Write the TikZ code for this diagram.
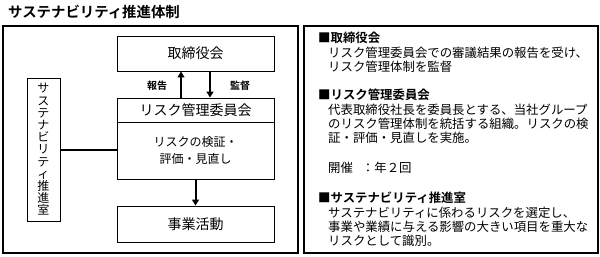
\documentclass[tikz,border=0pt]{standalone}
\usepackage{fontspec}
\newfontfamily\jp{Noto Sans CJK JP}[BoldFont={Noto Sans CJK JP Bold}]
\usetikzlibrary{arrows.meta}
\tikzset{
  frame/.style={draw=black, line width=1.1pt},
  boxn/.style={draw=black, line width=0.9pt, minimum width=157pt, inner sep=0pt, font=\jp\fontsize{14}{16}\selectfont},
  arr/.style={line width=2pt, -{Triangle[length=6pt,width=7pt]}},
  lbl/.style={font=\jp\bfseries\fontsize{10}{12}\selectfont, inner sep=0pt},
  para/.style={anchor=north west, inner sep=0pt, align=left, font=\jp\fontsize{12.4}{14}\selectfont},
}
\newcommand{\ind}{\hspace{10pt}}
\begin{document}
\begin{tikzpicture}[x=1pt,y=-1pt]
\useasboundingbox (0,0) rectangle (600,257);
\node[inner sep=0pt, anchor=west, font=\jp\bfseries\fontsize{14.4}{16}\selectfont] (title) at (8,12) {サステナビリティ推進体制};
\draw[frame] (3,26) rectangle (298,253);
\draw[frame] (304,26) rectangle (598,253);
\node[boxn, minimum height=35pt] (board) at (195.5,53.5) {取締役会};
\node[boxn, minimum height=24pt] (risktitle) at (195.5,110) {リスク管理委員会};
\node[boxn, minimum height=57pt, align=center, font=\jp\fontsize{12}{17}\selectfont] (riskbody) at (195.5,150.5) {リスクの検証・\\評価・見直し};
\node[boxn, minimum height=36pt] (biz) at (195.5,224) {事業活動};
\node[draw=black, line width=0.9pt, minimum width=33pt, minimum height=143pt, inner sep=0pt, align=center, font=\jp\fontsize{12}{12.2}\selectfont] (sus) at (43.5,149.5) {サ\\ス\\テ\\ナ\\ビ\\リ\\テ\\ィ\\推\\進\\室};
\draw[line width=2pt] (sus.east) -- (sus.east -| riskbody.west);
\draw[arr] ([xshift=-14.5pt]risktitle.north) -- ([xshift=-14.5pt]board.south);
\draw[arr] ([xshift=14.5pt]board.south) -- ([xshift=14.5pt]risktitle.north);
\draw[arr] (riskbody.south) -- (biz.north);
\node[lbl] (lrep) at (157,86) {報告};
\node[lbl] (lsup) at (240,86) {監督};
\node[para] (p1) at (318,32) {{\bfseries ■取締役会}\\[1pt]\ind リスク管理委員会での審議結果の報告を受け、\\\ind リスク管理体制を監督};
\node[para] (p2) at (318,89) {{\bfseries ■リスク管理委員会}\\[1pt]\ind 代表取締役社長を委員長とする、当社グループ\\\ind のリスク管理体制を統括する組織。リスクの検\\\ind 証・評価・見直しを実施。};
\node[para] (p3) at (328,162) {開催\hspace{9pt}：年２回};
\node[para] (p4) at (318,192) {{\bfseries ■サステナビリティ推進室}\\[1pt]\ind サステナビリティに係わるリスクを選定し、\\\ind 事業や業績に与える影響の大きい項目を重大な\\\ind リスクとして識別。};
\end{tikzpicture}
\end{document}
